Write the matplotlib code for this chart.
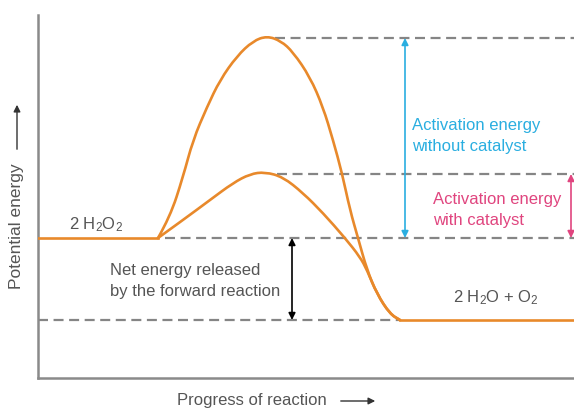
import matplotlib
matplotlib.use("Agg")
import matplotlib.pyplot as plt
from matplotlib.path import Path
from matplotlib.patches import PathPatch, FancyArrowPatch

plt.rcParams['font.family'] = ['Liberation Sans', 'DejaVu Sans']
plt.rcParams['mathtext.default'] = 'regular'

# ---- data (energy units arbitrary, progress arbitrary) ----
reactant_level = 140
product_level = 58
peak_uncat = 340
peak_cat = 204
x_start = 120      # end of reactant plateau
x_end = 362        # start of product plateau
x_max = 536

uncat_x = [120, 132, 145, 155, 169, 182, 199, 215, 229, 243, 255, 272, 285, 295, 304, 312, 320, 329, 339, 352, 362]
uncat_y = [140, 161, 201, 238, 271, 298, 322, 337, 342, 337, 326, 301, 271, 238, 205, 168, 140, 108, 84, 64, 58]

cat_x = [120, 145, 172, 195, 212, 227, 245, 265, 285, 307, 322, 329, 339, 352, 362]
cat_y = [140, 158, 178, 195, 204, 206, 201, 185, 165, 140, 121, 108, 84, 64, 58]

label_reactant = "2 H$_2$O$_2$"
label_product = "2 H$_2$O + O$_2$"
label_uncat = "Activation energy\nwithout catalyst"
label_cat = "Activation energy\nwith catalyst"
label_net = "Net energy released\nby the forward reaction"
xlabel = "Progress of reaction"
ylabel = "Potential energy"

ORANGE = "#E8892B"
CYAN = "#2AAEE0"
MAGENTA = "#E0457F"
GRAYTXT = "#555555"
DASH = "#858585"

W, H = 574, 409
fig = plt.figure(figsize=(W / 100, H / 100), dpi=100)
ax = fig.add_axes([38 / W, 1 - 378 / H, (574 - 38) / W, (378 - 15) / H])
ax.set_xlim(0, x_max)
ax.set_ylim(0, 363)
ax.set_xticks([])
ax.set_yticks([])
for s in ['top', 'right']:
    ax.spines[s].set_visible(False)
for s in ['left', 'bottom']:
    ax.spines[s].set_color("#8a8a8a")
    ax.spines[s].set_linewidth(1.8)

# dashed reference lines
dkw = dict(color=DASH, lw=1.6, dashes=(4.5, 2.5), zorder=1)
ax.plot([237, x_max], [peak_uncat, peak_uncat], **dkw)
ax.plot([239, x_max], [peak_cat, peak_cat], **dkw)
ax.plot([127, x_max], [reactant_level, reactant_level], **dkw)
ax.plot([0, x_end], [product_level, product_level], **dkw)


def smooth_curve(xs, ys, **kw):
    pts = list(zip(xs, ys))
    verts = [pts[0]]
    codes = [Path.MOVETO]
    for i in range(1, len(pts) - 1):
        mx = (pts[i][0] + pts[i + 1][0]) / 2
        my = (pts[i][1] + pts[i + 1][1]) / 2
        verts += [pts[i], (mx, my)]
        codes += [Path.CURVE3, Path.CURVE3]
    verts.append(pts[-1])
    codes.append(Path.LINETO)
    ax.add_patch(PathPatch(Path(verts, codes), fill=False, **kw))


ckw = dict(edgecolor=ORANGE, lw=1.9, zorder=3, capstyle='round', joinstyle='round')
ax.plot([0, x_start], [reactant_level, reactant_level], color=ORANGE, lw=1.9, zorder=3)
ax.plot([x_end, x_max], [product_level, product_level], color=ORANGE, lw=1.9, zorder=3)
smooth_curve(uncat_x, uncat_y, **ckw)
smooth_curve(cat_x, cat_y, **ckw)


def darrow(x, y0, y1, c):
    ax.annotate("", xy=(x, y1), xytext=(x, y0),
                arrowprops=dict(arrowstyle="<|-|>", color=c, lw=1.2,
                                mutation_scale=10, shrinkA=0, shrinkB=0),
                zorder=4)


darrow(367, reactant_level, peak_uncat, CYAN)
darrow(533, reactant_level, peak_cat, MAGENTA)
darrow(254, product_level, reactant_level, "black")

fs = 12
ls = 1.45
ax.text(58, 153, label_reactant, color=GRAYTXT, fontsize=fs, ha='center', va='center')
ax.text(458, 80, label_product, color=GRAYTXT, fontsize=fs, ha='center', va='center')
ax.text(72, 97, label_net, color=GRAYTXT, fontsize=fs, ha='left', va='center', linespacing=ls)
ax.text(374, 242, label_uncat, color=CYAN, fontsize=fs, ha='left', va='center', linespacing=ls)
ax.text(395, 168, label_cat, color=MAGENTA, fontsize=fs, ha='left', va='center', linespacing=ls)

# axis labels with arrows
fig.text(177 / W, 1 - 401 / H, xlabel, color=GRAYTXT, fontsize=fs, ha='left', va='center')
fig.add_artist(FancyArrowPatch(
    (338 / W, 1 - 401 / H), (378 / W, 1 - 401 / H), transform=fig.transFigure,
    arrowstyle="-|>", mutation_scale=10, color="#333333", lw=1.0))
fig.text(17 / W, 1 - 226 / H, ylabel, color=GRAYTXT, fontsize=12.5, ha='center', va='center', rotation=90)
fig.add_artist(FancyArrowPatch(
    (17 / W, 1 - 152 / H), (17 / W, 1 - 102 / H), transform=fig.transFigure,
    arrowstyle="-|>", mutation_scale=10, color="#333333", lw=1.0))

fig.savefig("out.png", dpi=100)
